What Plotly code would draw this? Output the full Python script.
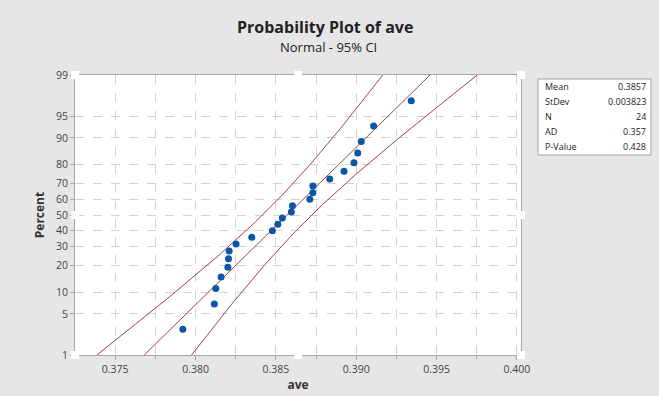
import plotly.graph_objects as go
from statistics import NormalDist

# ---- data ----
ave_values = [0.37921, 0.38117, 0.38126, 0.38159, 0.38201, 0.38205, 0.38209, 0.38252,
              0.38350, 0.38478, 0.38512, 0.38540, 0.38596, 0.38603, 0.38711, 0.38730,
              0.38730, 0.38835, 0.38924, 0.38986, 0.39009, 0.39031, 0.39108, 0.39342]
MEAN = 0.3857
STDEV = 0.003823
N = 24
AD = 0.357
PVALUE = 0.428
percent_ticks = [1, 5, 10, 20, 30, 40, 50, 60, 70, 80, 90, 95, 99]
x_ticks = [0.375, 0.380, 0.385, 0.390, 0.395, 0.400]

nd = NormalDist()
def z(p):
    return nd.inv_cdf(p / 100.0)

vals = sorted(ave_values)
n = len(vals)
pct = [(i - 0.3) / (n + 0.4) * 100 for i in range(1, n + 1)]
zpts = [z(p) for p in pct]

# fitted line and 95% CI
zmin, zmax = z(1), z(99)
steps = 120
zline = [zmin + (zmax - zmin) * k / steps for k in range(steps + 1)]
fit = [MEAN + zz * STDEV for zz in zline]
se = [STDEV * (1.0 / N + zz * zz / (2.0 * N)) ** 0.5 for zz in zline]
lo = [f - 1.96 * s for f, s in zip(fit, se)]
hi = [f + 1.96 * s for f, s in zip(fit, se)]

line_col = "#a8413f"
fig = go.Figure()
for xs in (lo, fit, hi):
    fig.add_trace(go.Scatter(x=xs, y=zline, mode="lines",
                             line=dict(color=line_col, width=1), hoverinfo="skip",
                             showlegend=False, cliponaxis=True))
fig.add_trace(go.Scatter(x=vals, y=zpts, mode="markers",
                         marker=dict(color="#0a56a8", size=7), showlegend=False))

grid_col = "#d4d4d4"
axis_col = "#a6a6a6"
tick_font = dict(family="Open Sans", size=10.5, color="#444")
fig.update_xaxes(range=[0.3725, 0.40025], tickvals=x_ticks,
                 ticktext=[f"{v:.3f}" for v in x_ticks],
                 showgrid=True, gridcolor=grid_col, griddash="dash", gridwidth=1,
                 minor=dict(dtick=0.0025, tick0=0.3725, showgrid=True, gridcolor=grid_col,
                            griddash="dash", ticks="outside", ticklen=3, tickcolor=axis_col),
                 showline=True, linecolor=axis_col, mirror=True, linewidth=1,
                 ticks="outside", ticklen=4, tickcolor=axis_col, zeroline=False,
                 automargin=False, tickfont=tick_font,
                 title=dict(text="<b>ave</b>", font=dict(family="Open Sans", size=12, color="#333"),
                            standoff=2))
fig.update_yaxes(range=[zmin, zmax], tickvals=[z(p) for p in percent_ticks],
                 ticktext=[str(p) for p in percent_ticks],
                 showgrid=True, gridcolor=grid_col, griddash="dash", gridwidth=1,
                 showline=True, linecolor=axis_col, mirror=True, linewidth=1,
                 ticks="outside", ticklen=4, tickcolor=axis_col, zeroline=False,
                 automargin=False, tickfont=tick_font,
                 title=dict(text="<b>Percent</b>", font=dict(family="Open Sans", size=12, color="#333"),
                            standoff=8))

shapes = []
for px in (0, 0.5, 1):
    for py in (0, 0.5, 1):
        if px == 0.5 and py == 0.5:
            continue
        shapes.append(dict(type="rect", xref="paper", yref="paper",
                           xsizemode="pixel", ysizemode="pixel",
                           xanchor=px, yanchor=py, x0=-4, x1=4, y0=-4, y1=4,
                           fillcolor="white", line=dict(width=0), layer="above"))
# stats box (plot area is 446 x 280 px, starting at x=75, y=75)
def px_x(p):
    return (p - 75) / 446.0
def px_y(p):
    return (355 - p) / 280.0

shapes.append(dict(type="rect", xref="paper", yref="paper",
                   x0=px_x(538), x1=px_x(651), y0=px_y(155), y1=px_y(79),
                   fillcolor="white", line=dict(color="#a0a0a0", width=1)))

labels = ["Mean", "StDev", "N", "AD", "P-Value"]
values = [f"{MEAN:.4f}", f"{STDEV:.6f}", str(N), f"{AD:.3f}", f"{PVALUE:.3f}"]
annotations = []
for k, (lab, val) in enumerate(zip(labels, values)):
    yy = px_y(87 + k * 14.8)
    annotations.append(dict(xref="paper", yref="paper", x=px_x(543), y=yy, text=lab,
                            showarrow=False, xanchor="left", yanchor="middle",
                            font=dict(family="Open Sans", size=9, color="#222")))
    annotations.append(dict(xref="paper", yref="paper", x=px_x(648), y=yy, text=val,
                            showarrow=False, xanchor="right", yanchor="middle",
                            font=dict(family="Open Sans", size=9, color="#222")))
annotations.append(dict(xref="paper", yref="paper", x=px_x(325), y=px_y(27),
                        xanchor="center", yanchor="middle", showarrow=False,
                        text="<b>Probability Plot of ave</b>",
                        font=dict(family="Open Sans", size=16, color="#222")))
annotations.append(dict(xref="paper", yref="paper", x=px_x(328), y=px_y(47),
                        xanchor="center", yanchor="middle", showarrow=False,
                        text="Normal - 95% CI",
                        font=dict(family="Open Sans", size=13, color="#222")))

fig.update_layout(
    width=659, height=396,
    margin=dict(l=75, r=138, t=75, b=41),
    paper_bgcolor="#e6e6e6", plot_bgcolor="white",
    shapes=shapes, annotations=annotations,
)

fig.write_html("out.html", config={"displayModeBar": False},
               post_script="document.body.style.margin='0';document.body.style.overflow='hidden';")
